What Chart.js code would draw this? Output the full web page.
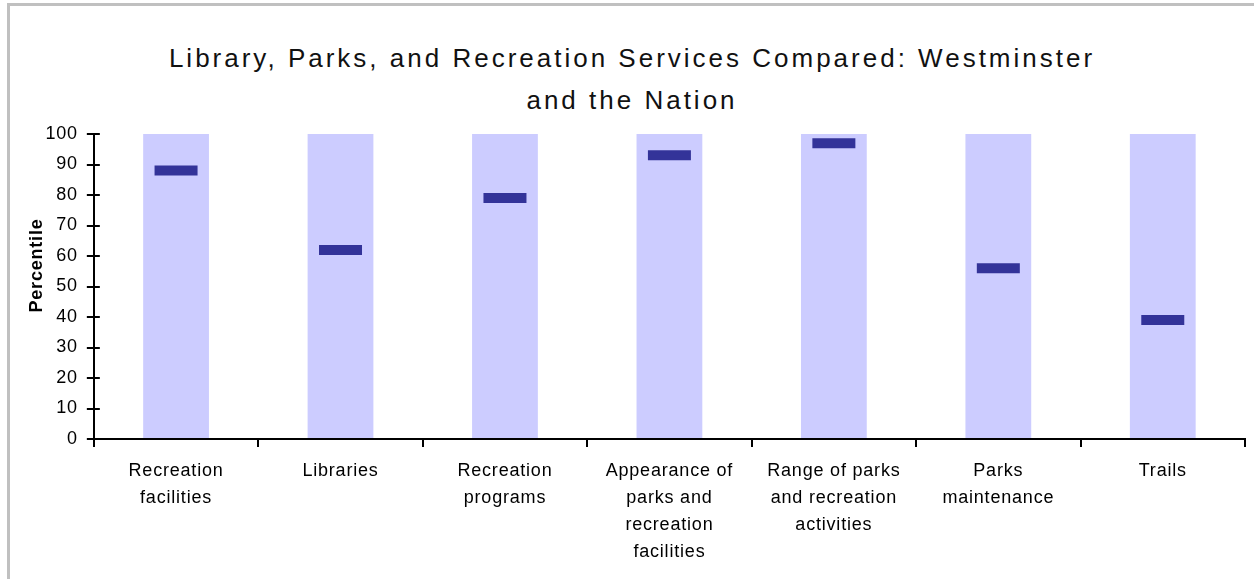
<!DOCTYPE html>
<html>
<head>
<meta charset="utf-8">
<title>Library, Parks, and Recreation Services</title>
<script src="https://cdn.jsdelivr.net/npm/chart.js@4.4.0/dist/chart.umd.min.js"></script>
<style>
  html, body { margin: 0; padding: 0; background: #fff; overflow: hidden; }
  #wrap { position: relative; width: 1254px; height: 579px; }
  #frame {
    position: absolute; left: 7px; top: 3px; width: 1300px; height: 640px;
    border-left: 3px solid #c0c0c0; border-top: 3px solid #c0c0c0;
  }
  #title {
    position: absolute; left: 5px; top: 37px; width: 1254px;
    text-align: center; font-family: 'Liberation Sans', Arial, sans-serif; font-size: 26px;
    letter-spacing: 3px; line-height: 42px; color: #111;
  }
  canvas { position: absolute; left: 0; top: 0; }
</style>
</head>
<body>
<div id="wrap">
  <div id="frame"></div>
  <div id="title">Library, Parks, and Recreation Services Compared: Westminster<br>and the Nation</div>
  <canvas id="chart" width="1254" height="579"></canvas>
</div>
<script>
// Service categories (wrapped the way they appear under the axis)
const categories = [
    ['Recreation', 'facilities'],
    ['Libraries'],
    ['Recreation', 'programs'],
    ['Appearance of', 'parks and', 'recreation', 'facilities'],
    ['Range of parks', 'and recreation', 'activities'],
    ['Parks', 'maintenance'],
    ['Trails']
];

// Westminster's percentile rank against the nation
const percentiles = [88, 62, 79, 93, 97, 56, 39];

// Full percentile range shown behind each marker
const rangeMax = [100, 100, 100, 100, 100, 100, 100];

const yTicks = { min: 0, max: 100, step: 10 };

const yTitle = 'Percentile';

const labelFont = { family: "'Liberation Sans', Arial, sans-serif", size: 18 };
const textSpacing = '0.8px';

// Slightly wider text for all labels drawn on the canvas
const spacingPlugin = {
    id: 'spacing',
    beforeUpdate(chart) { chart.ctx.letterSpacing = textSpacing; },
    beforeDraw(chart) { chart.ctx.letterSpacing = textSpacing; }
};

// Y axis title sits a little above the middle of the axis, and the
// tick marks cross the axis line into the plot.
// The built-in title is kept (transparent) so the axis still reserves its room.
const yAxisExtras = {
    id: 'yAxisExtras',
    afterDraw(chart) {
        const y = chart.scales.y;
        const c = chart.ctx;
        const left = chart.chartArea.left;

        c.save();
        c.strokeStyle = '#000';
        c.lineWidth = 2;
        c.beginPath();
        y.ticks.forEach(t => {
            const py = Math.round(y.getPixelForValue(t.value));
            c.moveTo(left, py);
            c.lineTo(left + 6, py);
        });
        c.stroke();

        const cx = y.left + 24;
        const cy = (chart.chartArea.top + chart.chartArea.bottom) / 2 - 21;
        c.translate(cx, cy);
        c.rotate(-Math.PI / 2);
        c.font = `bold ${labelFont.size}px ${labelFont.family}`;
        c.fillStyle = '#000';
        c.textAlign = 'center';
        c.textBaseline = 'middle';
        c.fillText(yTitle, 0, 0);
        c.restore();
    }
};

const ctx = document.getElementById('chart').getContext('2d');

new Chart(ctx, {
    type: 'bar',
    data: {
        labels: categories,
        datasets: [
            {
                type: 'line',
                label: 'Westminster',
                data: percentiles,
                showLine: false,
                pointStyle: 'line',
                pointRadius: 21.5,
                pointHoverRadius: 21.5,
                pointBorderWidth: 10,
                pointHoverBorderWidth: 10,
                pointBorderColor: '#333399',
                pointBackgroundColor: '#333399',
                order: 0
            },
            {
                label: 'Range',
                data: rangeMax,
                backgroundColor: '#ccccff',
                borderWidth: 0,
                categoryPercentage: 1,
                barPercentage: 0.4,
                order: 1
            }
        ]
    },
    options: {
        responsive: false,
        animation: false,
        events: [],
        layout: {
            // the wide markers would otherwise push the plot inwards
            autoPadding: false,
            padding: { top: 134, right: 9, bottom: 2, left: 13 }
        },
        plugins: {
            legend: { display: false },
            tooltip: { enabled: false }
        },
        scales: {
            x: {
                grid: {
                    drawOnChartArea: false,
                    offset: true,
                    color: '#000',
                    lineWidth: 2,
                    tickLength: 8
                },
                border: { color: '#000', width: 2 },
                ticks: {
                    color: '#000',
                    font: { ...labelFont, lineHeight: 1.5 },
                    maxRotation: 0,
                    autoSkip: false,
                    padding: 11
                },
                afterFit(scale) {
                    scale.paddingLeft = 0;
                    scale.paddingRight = 0;
                }
            },
            y: {
                min: yTicks.min,
                max: yTicks.max,
                grid: {
                    drawOnChartArea: false,
                    color: '#000',
                    lineWidth: 2,
                    tickLength: 7
                },
                border: { color: '#000', width: 2 },
                ticks: {
                    stepSize: yTicks.step,
                    color: '#000',
                    font: labelFont,
                    padding: 9
                },
                title: {
                    display: true,
                    text: yTitle,
                    color: 'transparent',
                    font: { ...labelFont, size: 17, weight: 'bold' },
                    padding: { top: 0, bottom: 3 }
                }
            }
        }
    },
    plugins: [spacingPlugin, yAxisExtras]
});
</script>
</body>
</html>
